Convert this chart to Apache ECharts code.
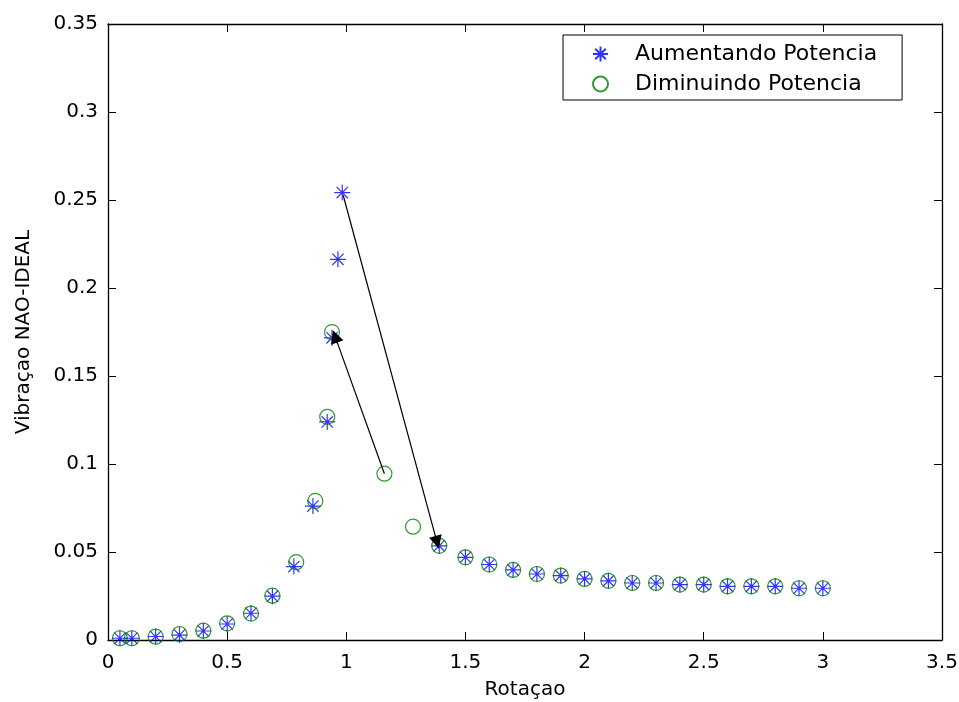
<!DOCTYPE html>
<html>
<head>
<meta charset="utf-8">
<script src="https://cdn.jsdelivr.net/npm/echarts@6/dist/echarts.min.js"></script>
<style>
  html, body { margin: 0; padding: 0; background: #fff; }
  #chart { width: 959px; height: 702px; }
</style>
</head>
<body>
<div id="chart"></div>
<script>
// Rotation (normalised) vs. non-ideal vibration amplitude
const rotUp = [0.05, 0.1, 0.2, 0.3, 0.4, 0.5, 0.6, 0.69, 0.78, 0.86, 0.92, 0.94, 0.965, 0.983,
  1.39, 1.5, 1.6, 1.7, 1.8, 1.9, 2.0, 2.1, 2.2, 2.3, 2.4, 2.5, 2.6, 2.7, 2.8, 2.9, 3.0];
const vibUp = [0.001, 0.001, 0.002, 0.0028, 0.0051, 0.0091, 0.0152, 0.0249, 0.0417, 0.0761, 0.1239, 0.1717, 0.2163, 0.2542,
  0.0535, 0.047, 0.0429, 0.0398, 0.0375, 0.0366, 0.0347, 0.0336, 0.0324, 0.0324, 0.0315, 0.0315, 0.0305, 0.0305, 0.0305, 0.0294, 0.0294];

const rotDown = [0.05, 0.1, 0.2, 0.3, 0.4, 0.5, 0.6, 0.69, 0.79, 0.87, 0.92, 0.94, 1.16, 1.28,
  1.39, 1.5, 1.6, 1.7, 1.8, 1.9, 2.0, 2.1, 2.2, 2.3, 2.4, 2.5, 2.6, 2.7, 2.8, 2.9, 3.0];
const vibDown = [0.001, 0.001, 0.0019, 0.0034, 0.0053, 0.0095, 0.015, 0.0252, 0.0442, 0.079, 0.1268, 0.1749, 0.0945, 0.0644,
  0.0535, 0.047, 0.0429, 0.0398, 0.0375, 0.0366, 0.0347, 0.0336, 0.0324, 0.0324, 0.0315, 0.0315, 0.0305, 0.0305, 0.0305, 0.0294, 0.0294];

// Jump arrows: [start, end] in data units
const arrowDown = [[1.16, 0.0945], [0.953, 0.1725]];
const arrowUp = [[0.987, 0.2527], [1.381, 0.0555]];

const xTicks = { min: 0, max: 3.5, interval: 0.5 };
const yTicks = { min: 0, max: 0.35, interval: 0.05 };

const seriesNames = ['Aumentando Potencia', 'Diminuindo Potencia'];
const xTitle = 'Rotaçao';
const yTitle = 'Vibraçao NAO-IDEAL';

const FONT = 'DejaVu Sans';
const asterisk = 'path://M8,0L8,16M0,8L16,8M2.34,2.34L13.66,13.66M2.34,13.66L13.66,2.34';

function pairs(xs, ys) { return xs.map((x, i) => [x, ys[i]]); }

function frameAxis() {
  return {
    axisLine: { show: true, onZero: false, lineStyle: { color: '#000', width: 1.3 } },
    axisTick: { show: true, inside: true, length: 8, lineStyle: { color: '#000', width: 1 } },
    splitLine: { show: false }
  };
}

const chart = echarts.init(document.getElementById('chart'));
chart.setOption({
  animation: false,
  backgroundColor: '#fff',
  grid: { left: 108, right: 17, top: 24, bottom: 62, outerBoundsMode: 'none', containLabel: false },
  legend: {
    data: seriesNames,
    orient: 'vertical',
    left: 563, top: 35,
    padding: [8, 25, 5, 29],
    itemGap: 8,
    itemWidth: 37, itemHeight: 15,
    backgroundColor: '#fff',
    borderColor: '#000', borderWidth: 1, borderRadius: 0,
    textStyle: { fontFamily: FONT, fontSize: 22, color: '#000', lineHeight: 20, padding: [0, 0, 0, 11] }
  },
  xAxis: [
    Object.assign({
      type: 'value', position: 'bottom',
      min: xTicks.min, max: xTicks.max, interval: xTicks.interval,
      name: xTitle, nameLocation: 'middle', nameGap: 40,
      nameTextStyle: { fontFamily: FONT, fontSize: 20, color: '#000' },
      axisLabel: { fontFamily: FONT, fontSize: 20, color: '#000', margin: 13 }
    }, frameAxis()),
    Object.assign({
      type: 'value', position: 'top',
      min: xTicks.min, max: xTicks.max, interval: xTicks.interval,
      axisLabel: { show: false }
    }, frameAxis())
  ],
  yAxis: [
    Object.assign({
      type: 'value', position: 'left',
      min: yTicks.min, max: yTicks.max, interval: yTicks.interval,
      name: yTitle, nameLocation: 'middle', nameGap: 74, nameRotate: 90,
      nameTextStyle: { fontFamily: FONT, fontSize: 20, color: '#000' },
      axisLabel: { fontFamily: FONT, fontSize: 20, color: '#000', margin: 10 }
    }, frameAxis()),
    Object.assign({
      type: 'value', position: 'right',
      min: yTicks.min, max: yTicks.max, interval: yTicks.interval,
      axisLabel: { show: false }
    }, frameAxis())
  ],
  series: [
    {
      name: seriesNames[0],
      type: 'scatter',
      data: pairs(rotUp, vibUp),
      symbol: asterisk,
      symbolSize: 16,
      itemStyle: { color: 'rgba(0,0,0,0)', borderColor: '#0000ff', borderWidth: 1.2 },
      z: 2
    },
    {
      name: seriesNames[1],
      type: 'scatter',
      data: pairs(rotDown, vibDown),
      symbol: 'circle',
      symbolSize: 15,
      itemStyle: { color: 'rgba(0,0,0,0)', borderColor: '#008000', borderWidth: 1.2 },
      z: 3,
      markLine: {
        silent: true,
        animation: false,
        symbol: ['none', 'triangle'],
        symbolSize: 13,
        label: { show: false },
        lineStyle: { color: '#000', width: 1.2, type: 'solid' },
        itemStyle: { color: '#000' },
        data: [
          [{ coord: arrowDown[0] }, { coord: arrowDown[1] }],
          [{ coord: arrowUp[0] }, { coord: arrowUp[1] }]
        ]
      }
    }
  ]
});
</script>
</body>
</html>
